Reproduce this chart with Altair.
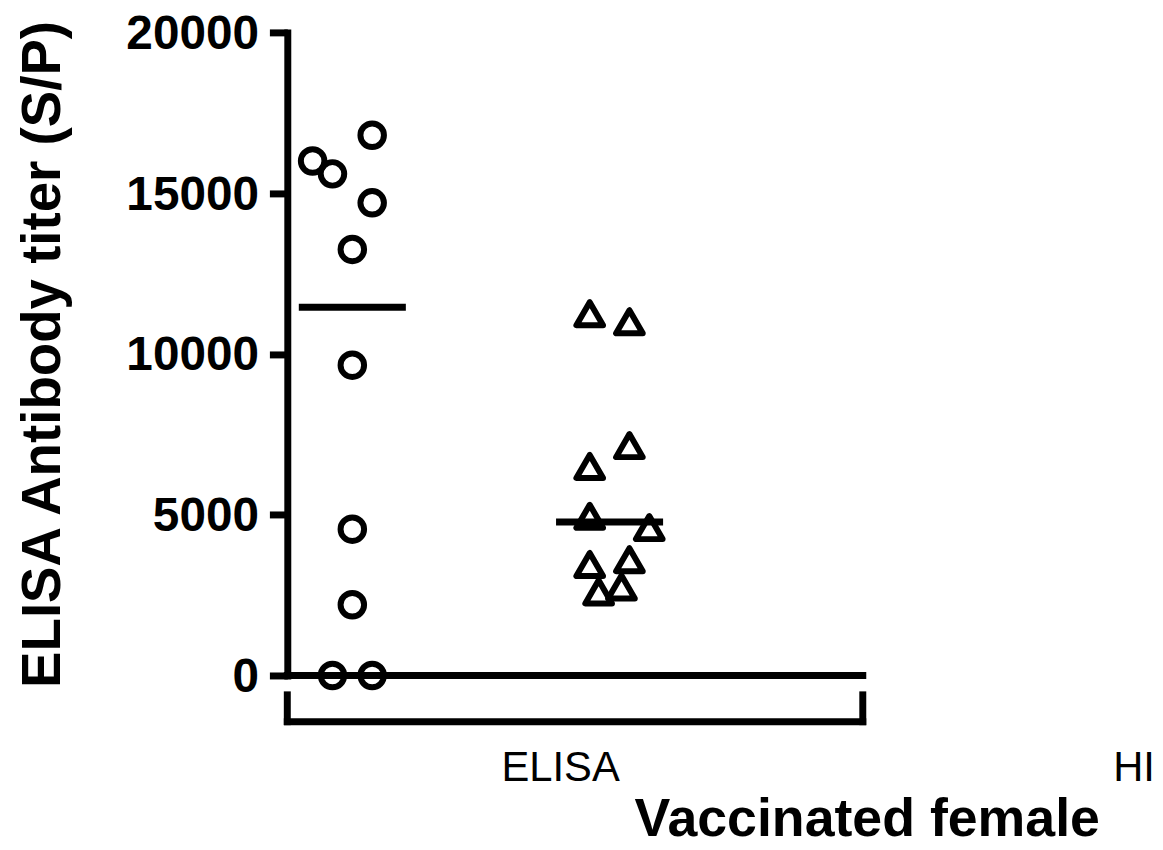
import json
import altair as alt
import pandas as pd

# ---------------- data ----------------
GROUPS = ["Group 1", "Group 2"]                      # circles, triangles
circle_values = [16000, 15600, 16800, 14700, 13250, 9650, 4550, 2200, 0, 0]
circle_jitter = [-2, -1, 1, 1, 0, 0, 0, 0, -1, 1]     # column-scatter offsets (steps)
triangle_values = [11250, 11000, 7150, 6500, 4950, 4600, 3450, 3600, 2600, 2750]
triangle_jitter = [-1, 1, 1, -1, -1, 2, -1, 1, -0.55, 0.6]
category_labels = ["ELISA", "HI"]
y_ticks = [0, 5000, 10000, 15000, 20000]
y_title = "ELISA Antibody titer (S/P)"
x_title = "Vaccinated female"

# ---------------- layout ----------------
FONT = "Liberation Sans, Arial, sans-serif"
UNIT = 579.0              # pixels per category bracket
W, H = 868, 647
X_MAX = W / UNIT
group_center = {GROUPS[0]: 0.113, GROUPS[1]: 0.56}
JITTER_STEP = 0.0345
MEDIAN_HALF = 0.093
label_pos = [0.474, 1.4706]
LW = 7

rows = []
for g, vals, jit in [(GROUPS[0], circle_values, circle_jitter),
                     (GROUPS[1], triangle_values, triangle_jitter)]:
    for v, j in zip(vals, jit):
        rows.append({"group": g, "value": v, "center": group_center[g],
                     "xpos": group_center[g] + j * JITTER_STEP})
df = pd.DataFrame(rows)

xscale = alt.Scale(domain=[0, X_MAX], nice=False, zero=False)
yscale = alt.Scale(domain=[0, 20000], nice=False, zero=False)

label_expr = "%s[datum.value < 1 ? 0 : 1]" % json.dumps(category_labels)

x_axis = alt.Axis(
    values=label_pos, labelExpr=label_expr, domain=False, ticks=False,
    tickSize=0, grid=False, labelFont=FONT, labelFontSize=42,
    labelFontWeight="normal", labelColor="black", labelPadding=73,
    labelFlush=False, labelOverlap=False, labelAlign="center",
    title=x_title, titleFont=FONT, titleFontSize=54, titleFontWeight="bold",
    titleColor="black", titleX=583, titleY=161, titleBaseline="alphabetic",
    titleAlign="center")
y_axis = alt.Axis(
    values=y_ticks, format="d", grid=False, domain=True, domainColor="black",
    domainWidth=LW, domainCap="square", ticks=True, tickColor="black",
    tickWidth=LW, tickSize=18, labelFont=FONT, labelFontSize=48,
    labelFontWeight="bold", labelColor="black", labelPadding=11,
    labelOffset=2, labelOverlap=False, labelFlush=False,
    title=y_title, titleFont=FONT, titleFontSize=55, titleFontWeight="bold",
    titleColor="black", titleAngle=-90, titleX=-229, titleY=H / 2,
    titleBaseline="alphabetic", titleAlign="center")

points = alt.Chart(df).mark_point(
    filled=False, strokeWidth=6, color="black", opacity=1, strokeJoin="round"
).encode(
    x=alt.X("xpos:Q", scale=xscale, axis=x_axis),
    y=alt.Y("value:Q", scale=yscale, axis=y_axis),
    shape=alt.Shape("group:N", scale=alt.Scale(domain=GROUPS, range=["circle", "triangle-up"]), legend=None),
    size=alt.Size("group:N", scale=alt.Scale(domain=GROUPS, range=[560, 720]), legend=None),
)

medians = alt.Chart(df).transform_aggregate(
    med="median(value)", groupby=["group", "center"]
).transform_calculate(
    x_lo="datum.center - %f" % MEDIAN_HALF,
    x_hi="datum.center + %f" % MEDIAN_HALF,
).mark_rule(color="black", strokeWidth=LW).encode(
    x=alt.X("x_lo:Q", scale=xscale, axis=x_axis),
    x2="x_hi:Q",
    y=alt.Y("med:Q", scale=yscale, axis=y_axis),
)

# zero baseline and the grouping bracket under the first category
PX_PER_VAL = H / 20000.0
b_top = -19.5 / PX_PER_VAL
b_bot = -46.5 / PX_PER_VAL
frame = pd.DataFrame([
    {"x": 0, "x2": 1, "y": 0, "y2": 0},
    {"x": 0, "x2": 1, "y": b_bot, "y2": b_bot},
    {"x": 0, "x2": 0, "y": b_top, "y2": b_bot},
    {"x": 1, "x2": 1, "y": b_top, "y2": b_bot},
])
lines = alt.Chart(frame).mark_rule(color="black", strokeWidth=LW, strokeCap="square").encode(
    x=alt.X("x:Q", scale=xscale, axis=x_axis),
    x2="x2:Q",
    y=alt.Y("y:Q", scale=yscale, axis=y_axis),
    y2="y2:Q",
)

chart = alt.layer(lines, medians, points).properties(
    width=W, height=H,
    padding={"left": 281, "top": 22, "right": 5, "bottom": 165},
    autosize=alt.AutoSizeParams(type="none"),
    background="white",
).configure_view(stroke=None)

chart.save("out.html", embed_options={"renderer": "svg", "actions": False})
